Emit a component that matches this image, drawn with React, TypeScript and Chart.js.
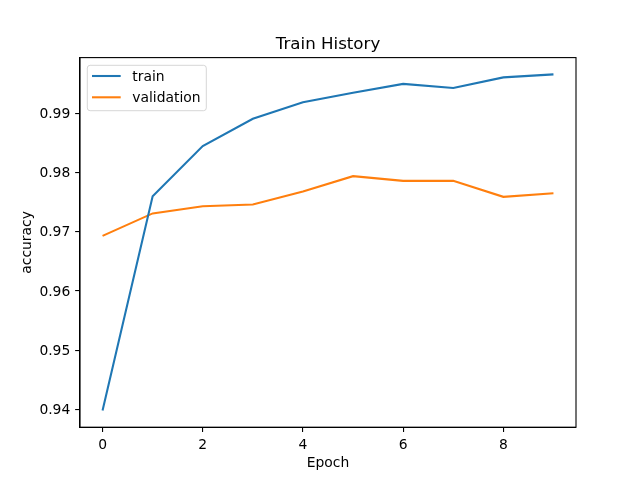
import React, { useEffect, useRef } from "react";
import { Chart, registerables } from "chart.js";

Chart.register(...registerables);

const epochs = [0, 1, 2, 3, 4, 5, 6, 7, 8, 9];
const trainAcc = [0.9398, 0.976, 0.9845, 0.9891, 0.9919, 0.9935, 0.995, 0.9943, 0.9961, 0.9966];
const valAcc = [0.9693, 0.9731, 0.9743, 0.9746, 0.9768, 0.9794, 0.9786, 0.9786, 0.9759, 0.9765];
const seriesLabels = ["train", "validation"];
const seriesColors = ["#1f77b4", "#ff7f0e"];
const xTicks = [0, 2, 4, 6, 8];
const yTicks = [0.94, 0.95, 0.96, 0.97, 0.98, 0.99];
const titleText = "Train History";
const xLabel = "Epoch";
const yLabel = "accuracy";

const FONT = '"DejaVu Sans", sans-serif';
const TICK_PX = 13.89;

const mplPlugin = {
  id: "mplDecor",
  afterDatasetsDraw(chart: any) {
    const { ctx, chartArea: a } = chart;
    ctx.save();
    // frame (spines)
    ctx.strokeStyle = "#000";
    ctx.lineWidth = 1.1;
    ctx.strokeRect(a.left, a.top, a.right - a.left, a.bottom - a.top);
    // title
    ctx.fillStyle = "#000";
    ctx.font = `16.67px ${FONT}`;
    ctx.textAlign = "center";
    ctx.textBaseline = "alphabetic";
    ctx.fillText(titleText, (a.left + a.right) / 2, a.top - 8.3);
    // legend
    const bx = a.left + 7.3;
    const by = a.top + 7.7;
    const bw = 119;
    const bh = 45.4;
    ctx.beginPath();
    (ctx as any).roundRect(bx, by, bw, bh, 2.8);
    ctx.fillStyle = "rgba(255,255,255,0.8)";
    ctx.fill();
    ctx.strokeStyle = "rgba(204,204,204,0.8)";
    ctx.lineWidth = 1;
    ctx.stroke();
    const rows = [10.7, 32];
    chart.data.datasets.forEach((ds: any, i: number) => {
      const y = by + rows[i];
      ctx.beginPath();
      ctx.moveTo(bx + 4.7, y);
      ctx.lineTo(bx + 33.4, y);
      ctx.strokeStyle = ds.borderColor;
      ctx.lineWidth = 2.08;
      ctx.stroke();
      ctx.fillStyle = "#000";
      ctx.font = `${TICK_PX}px ${FONT}`;
      ctx.textAlign = "left";
      ctx.textBaseline = "middle";
      ctx.fillText(ds.label, bx + 45, y + 1);
    });
    ctx.restore();
  },
};

export default function App() {
  const ref = useRef<HTMLCanvasElement>(null);

  useEffect(() => {
    if (!ref.current) return;
    const all = [...trainAcc, ...valAcc];
    const dMin = Math.min(...all);
    const dMax = Math.max(...all);
    const m = (dMax - dMin) * 0.05;
    const xMin = epochs[0];
    const xMax = epochs[epochs.length - 1];
    const xm = (xMax - xMin) * 0.05;

    const tickFont = { family: FONT, size: TICK_PX, lineHeight: 1.2 };

    const chart = new Chart(ref.current, {
      type: "line",
      data: {
        datasets: [
          {
            label: seriesLabels[0],
            data: epochs.map((e, i) => ({ x: e, y: trainAcc[i] })),
            borderColor: seriesColors[0],
            backgroundColor: seriesColors[0],
            borderWidth: 2.08,
            pointRadius: 0,
            tension: 0,
            fill: false,
          },
          {
            label: seriesLabels[1],
            data: epochs.map((e, i) => ({ x: e, y: valAcc[i] })),
            borderColor: seriesColors[1],
            backgroundColor: seriesColors[1],
            borderWidth: 2.08,
            pointRadius: 0,
            tension: 0,
            fill: false,
          },
        ],
      },
      options: {
        responsive: false,
        animation: false,
        devicePixelRatio: 1,
        layout: { padding: { left: 0, top: 57.6, right: 64, bottom: 0 } },
        plugins: {
          legend: { display: false },
          title: { display: false },
          tooltip: { enabled: false },
        },
        scales: {
          x: {
            type: "linear",
            min: xMin - xm,
            max: xMax + xm,
            afterBuildTicks: (s: any) => {
              s.ticks = xTicks.map((v) => ({ value: v }));
            },
            afterFit: (s: any) => {
              s.height = 52.8;
            },
            ticks: {
              font: tickFont,
              color: "#000",
              padding: 5.3,
              maxRotation: 0,
              autoSkip: false,
              callback: (v: any) => String(v),
            },
            grid: {
              drawOnChartArea: false,
              drawTicks: true,
              tickLength: 4.86,
              color: "#000",
              lineWidth: 1.1,
            },
            border: { display: true, color: "#000", width: 1.1 },
            title: {
              display: true,
              text: xLabel,
              color: "#000",
              font: tickFont,
              padding: { top: 0, bottom: 8.2 },
            },
          },
          y: {
            type: "linear",
            min: dMin - m,
            max: dMax + m,
            afterBuildTicks: (s: any) => {
              s.ticks = yTicks.map((v) => ({ value: v }));
            },
            afterFit: (s: any) => {
              s.width = 80;
            },
            ticks: {
              font: tickFont,
              color: "#000",
              padding: 4.86,
              labelOffset: 1,
              autoSkip: false,
              callback: (v: any) => Number(v).toFixed(2),
            },
            grid: {
              drawOnChartArea: false,
              drawTicks: true,
              tickLength: 4.86,
              color: "#000",
              lineWidth: 1.1,
            },
            border: { display: true, color: "#000", width: 1.1 },
            title: {
              display: true,
              text: yLabel,
              color: "#000",
              font: tickFont,
              padding: { top: 19, bottom: 0 },
            },
          },
        },
      },
      plugins: [mplPlugin],
    });
    return () => chart.destroy();
  }, []);

  return (
    <div style={{ position: "absolute", left: 0, top: 0, width: 640, height: 480, background: "#fff" }}>
      <canvas ref={ref} width={640} height={480} style={{ display: "block" }} />
    </div>
  );
}
